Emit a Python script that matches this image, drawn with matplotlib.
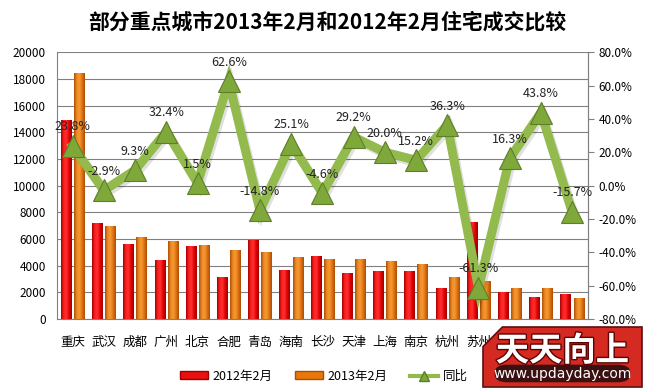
import matplotlib
matplotlib.use("Agg")
import matplotlib.pyplot as plt
import numpy as np
from matplotlib.patches import FancyBboxPatch, Polygon
from matplotlib.lines import Line2D
from matplotlib.patches import Patch
import matplotlib.patheffects as pe
from matplotlib.colors import LinearSegmentedColormap

plt.rcParams['font.family'] = ['Noto Sans CJK SC', 'DejaVu Sans']

cities = ['重庆', '武汉', '成都', '广州', '北京', '合肥', '青岛', '海南', '长沙',
          '天津', '上海', '南京', '杭州', '苏州', '', '', '']
v2012 = [14900, 7230, 5650, 4430, 5500, 3160, 5930, 3680, 4730,
         3490, 3610, 3610, 2340, 7290, 2040, 1620, 1870]
v2013 = [18400, 7000, 6170, 5860, 5570, 5150, 5050, 4630, 4510,
         4500, 4350, 4150, 3180, 2820, 2350, 2300, 1600]
yoy = [23.8, -2.9, 9.3, 32.4, 1.5, 62.6, -14.8, 25.1, -4.6,
       29.2, 20.0, 15.2, 36.3, -61.3, 16.3, 43.8, -15.7]
title = '部分重点城市2013年2月和2012年2月住宅成交比较'
labels = ['2012年2月', '2013年2月', '同比']

fig = plt.figure(figsize=(6.48, 3.92), dpi=100)
ax = fig.add_axes([0.088, 0.186, 0.819, 0.681])
x = np.arange(len(cities))
w = 0.33

red_cmap = LinearSegmentedColormap.from_list('r', ['#A00000', '#FF2020', '#FF3030', '#E00000', '#A00000'])
org_cmap = LinearSegmentedColormap.from_list('o', ['#A84E06', '#F08A20', '#F49A38', '#E07010', '#A84E06'])

b1 = ax.bar(x - 0.21, v2012, w, color='#E81010', zorder=2)
b2 = ax.bar(x + 0.21, v2013, w, color='#E8780E', zorder=2)
grad = np.linspace(0, 1, 64).reshape(1, -1)
for bars, cmap in ((b1, red_cmap), (b2, org_cmap)):
    for p in bars:
        bx, by, bw, bh = p.get_x(), p.get_y(), p.get_width(), p.get_height()
        im = ax.imshow(grad, cmap=cmap, aspect='auto', extent=(bx, bx + bw, by, by + bh),
                       zorder=2.1, interpolation='bicubic')
        im.set_clip_path(p)

ax.set_xlim(-0.5, len(cities) - 0.5)
ax.set_ylim(0, 20000)
ax.set_yticks(np.arange(0, 20001, 2000))
ax.set_xticks(x)
ax.set_xticklabels(cities, fontsize=9)
ax.tick_params(axis='y', labelsize=8.5, length=0, pad=8)
ax.tick_params(axis='x', length=0, pad=12)
ax.grid(axis='y', color='#808080', linewidth=0.8, zorder=0)
ax.set_axisbelow(True)
ax.spines['top'].set_visible(False)
for s in ['left', 'right', 'bottom']:
    ax.spines[s].set_color('#808080')
    ax.spines[s].set_linewidth(0.8)

ax2 = ax.twinx()
ax2.set_ylim(-80, 80)
ax2.set_yticks(np.arange(-80, 81, 20))
ax2.set_yticklabels([f'{t:.1f}%' for t in np.arange(-80, 81, 20)])
ax2.tick_params(axis='y', labelsize=8.5, length=4, color='#808080', pad=4)
for s in ['top', 'left', 'bottom']:
    ax2.spines[s].set_visible(False)
ax2.spines['right'].set_color('#808080')
ax2.set_xlim(-0.5, len(cities) - 0.5)

ax2.plot(x, yoy, color='#92BA4C', linewidth=6.5, zorder=3,
         solid_joinstyle='miter',
         path_effects=[pe.SimpleLineShadow(offset=(1.5, -2), alpha=0.12), pe.Normal()])
ax2.plot(x, yoy, linestyle='none', marker='^', markersize=16,
         markerfacecolor='#7FA83A', markeredgecolor='#5E7E2A', markeredgewidth=0.8, zorder=4)
for xi, v in zip(x, yoy):
    ax2.annotate(f'{v:.1f}%', (xi, v), xytext=(0, 9), textcoords='offset points',
                 ha='center', va='bottom', fontsize=9, color='#222222', zorder=5)

fig.text(0.505, 0.943, title, ha='center', va='center', fontsize=15, fontweight='bold')

handles = [Patch(facecolor='#E81010', edgecolor='#A00000'),
           Patch(facecolor='#E8780E', edgecolor='#A84E06'),
           Line2D([0], [0], color='#92BA4C', linewidth=3, marker='^', markersize=7,
                  markerfacecolor='#7FA83A', markeredgecolor='#5E7E2A')]
fig.legend(handles, labels, loc='center', bbox_to_anchor=(0.5, 0.04), ncol=3,
           frameon=False, fontsize=9, handlelength=2.2, handleheight=0.6,
           columnspacing=1.8, handletextpad=0.4)

# watermark overlay present in the reference image
wx0, wx1, wy0, wy1 = 483 / 648, 642 / 648, 1 - 387 / 392, 1 - 327 / 392
poly = Polygon([(wx0, wy0), (wx1, wy0), (wx1, wy1), (wx0 + 0.03, wy1), (wx0, wy1 - 0.05)],
               closed=True, transform=fig.transFigure, facecolor='#D42A22',
               edgecolor='#5A1010', linewidth=1.2, zorder=10)
fig.add_artist(poly)
fig.text((wx0 + wx1) / 2, wy1 - 0.062, '天天向上', ha='center', va='center', fontsize=24,
         fontweight='bold', color='white', zorder=11,
         path_effects=[pe.withStroke(linewidth=2, foreground='#600000')])
pill = FancyBboxPatch((wx0 + 0.018, wy0 + 0.012), (wx1 - wx0) - 0.036, 0.045,
                      boxstyle='round,pad=0.0,rounding_size=0.02', transform=fig.transFigure,
                      facecolor='#3A1010', edgecolor='none', zorder=11)
fig.add_artist(pill)
fig.text((wx0 + wx1) / 2, wy0 + 0.034, 'www.updayday.com', ha='center', va='center',
         fontsize=10, color='white', zorder=12, family='DejaVu Sans')

fig.savefig('out.png', dpi=100)
